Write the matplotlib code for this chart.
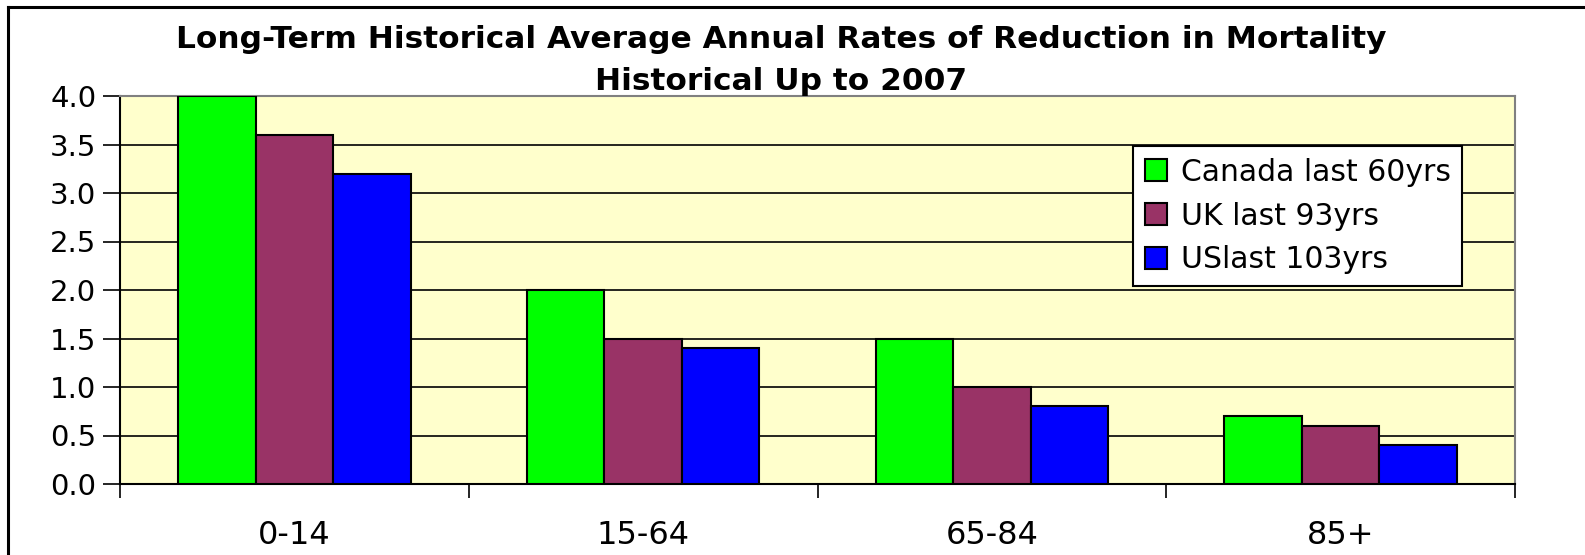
import numpy as np
import matplotlib.pyplot as plt
from matplotlib.lines import Line2D

plt.rcParams["font.family"] = ["DejaVu Sans"]

# data
age_groups = ["0-14", "15-64", "65-84", "85+"]
series_names = ["Canada last 60yrs", "UK last 93yrs", "USlast 103yrs"]
canada = [4.0, 2.0, 1.5, 0.7]
uk = [3.6, 1.5, 1.0, 0.6]
us = [3.2, 1.4, 0.8, 0.4]
colors = ["#00FF00", "#993366", "#0000FF"]

fig = plt.figure(figsize=(15.85, 5.55), dpi=100)
ax = fig.add_axes([120 / 1585, 71 / 555, 1395 / 1585, 388 / 555])
ax.set_facecolor("#FFFFCC")

# bars: 3 bars per category, gap of 1.5 bar widths
bar_w = 1 / 4.5
x = np.arange(len(age_groups)) + 0.5
for k, (vals, name, col) in enumerate(zip([canada, uk, us], series_names, colors)):
    ax.bar(
        x + (k - 1) * bar_w,
        vals,
        width=bar_w,
        color=col,
        edgecolor="black",
        linewidth=1.5,
        label=name,
        zorder=3,
    )

ax.set_xlim(0, 4)
ax.set_ylim(0, 4.0)
ax.set_yticks(np.arange(0, 4.01, 0.5))
ax.set_yticklabels([f"{v:.1f}" for v in np.arange(0, 4.01, 0.5)], fontsize=21)
ax.yaxis.grid(True, color="black", linewidth=1.2, zorder=1)
ax.set_axisbelow(True)

ax.set_xticks(x)
ax.set_xticklabels(age_groups, fontsize=23)
ax.set_xticks(np.arange(0, 5), minor=True)
ax.tick_params(axis="x", which="major", length=0, pad=26)
ax.tick_params(axis="x", which="minor", length=10, width=1.2, direction="out")
ax.tick_params(axis="y", length=12, width=1.2, direction="out", pad=5)

for s in ["left", "bottom"]:
    ax.spines[s].set_color("black")
    ax.spines[s].set_linewidth(1.5)
for s in ["top", "right"]:
    ax.spines[s].set_color("#808080")
    ax.spines[s].set_linewidth(1.5)

leg = ax.legend(
    loc="upper left",
    bbox_to_anchor=(0.726, 0.872),
    fontsize=21.5,
    frameon=True,
    fancybox=False,
    handlelength=0.75,
    handleheight=0.75,
    handletextpad=0.45,
    labelspacing=0.5,
    borderpad=0.4,
    borderaxespad=0,
)
leg.get_frame().set_edgecolor("black")
leg.get_frame().set_linewidth(1.5)
leg.get_frame().set_facecolor("white")
leg.get_frame().set_alpha(1)

# title
fig.text(
    781 / 1585, 1 - 39 / 555,
    "Long-Term Historical Average Annual Rates of Reduction in Mortality",
    ha="center", va="center", fontsize=22.5, fontweight="bold",
)
fig.text(
    781 / 1585, 1 - 81 / 555,
    "Historical Up to 2007",
    ha="center", va="center", fontsize=22.5, fontweight="bold",
)

# cropped chart border
fig.add_artist(Line2D([8 / 1585, 8 / 1585], [0, 1 - 7 / 555], color="black", linewidth=2.2))
fig.add_artist(Line2D([8 / 1585, 1], [1 - 7 / 555, 1 - 7 / 555], color="black", linewidth=2.2))

fig.savefig("out.png", dpi=100)
